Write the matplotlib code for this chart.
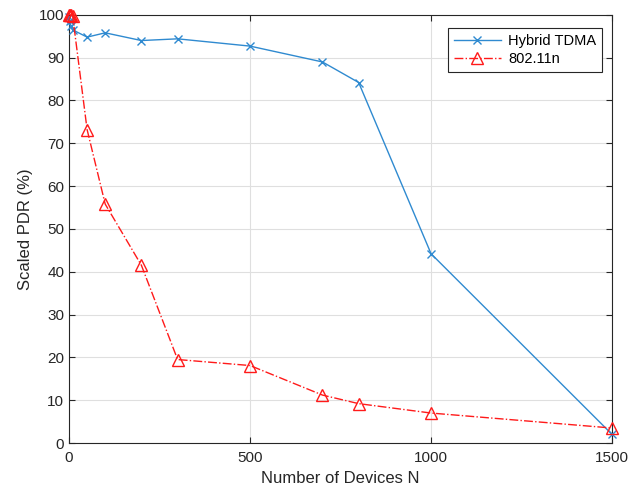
import matplotlib
matplotlib.use("Agg")
import matplotlib.pyplot as plt

plt.rcParams['font.family'] = ['Liberation Sans', 'DejaVu Sans']

tdma_x = [1, 2, 5, 10, 50, 100, 200, 300, 500, 700, 800, 1000, 1500]
tdma_y = [99.5, 98.5, 97.5, 96.5, 94.8, 95.8, 94.0, 94.4, 92.7, 89.0, 84.2, 44.2, 2.0]

wifi_x = [1, 2, 5, 10, 50, 100, 200, 300, 500, 700, 800, 1000, 1500]
wifi_y = [100, 100, 100, 99.8, 73.2, 55.8, 41.5, 19.5, 18.1, 11.2, 9.2, 7.0, 3.5]

xticks = [0, 500, 1000, 1500]
yticks = list(range(0, 101, 10))

fig = plt.figure(figsize=(6.33, 4.95), dpi=100)
ax = fig.add_axes([0.109, 0.105, 0.858, 0.865])

ax.plot(tdma_x, tdma_y, color='#2F8AD0', marker='x', markersize=6, linewidth=1.0,
        label='Hybrid TDMA', clip_on=False, zorder=3)
ax.plot(wifi_x, wifi_y, color='#FF1A1A', marker='^', markersize=9, markerfacecolor='none',
        markeredgewidth=1.0, linewidth=1.0, linestyle='-.', label='802.11n', clip_on=False, zorder=4)

ax.set_xlim(0, 1500)
ax.set_ylim(0, 100)
ax.set_xticks(xticks)
ax.set_yticks(yticks)
ax.grid(True, color='#DFDFDF', linewidth=0.8)
ax.set_axisbelow(True)
for s in ax.spines.values():
    s.set_color('#262626')
    s.set_linewidth(0.8)
ax.tick_params(direction='in', length=4, colors='#262626', labelsize=11, width=0.8,
               top=True, right=True)
ax.tick_params(axis='x', pad=6)
ax.set_xlabel('Number of Devices N', fontsize=12, color='#262626')
ax.set_ylabel('Scaled PDR (%)', fontsize=12, color='#262626')

leg = ax.legend(loc='upper right', bbox_to_anchor=(602 / 633, 1 - 28 / 495),
                bbox_transform=fig.transFigure, fancybox=False, framealpha=1,
                edgecolor='#262626', fontsize=10.5, handlelength=3.2, borderpad=0.4,
                labelspacing=0.3, handletextpad=0.5, borderaxespad=0)
leg.get_frame().set_linewidth(0.8)

fig.savefig('out.png', dpi=100)
